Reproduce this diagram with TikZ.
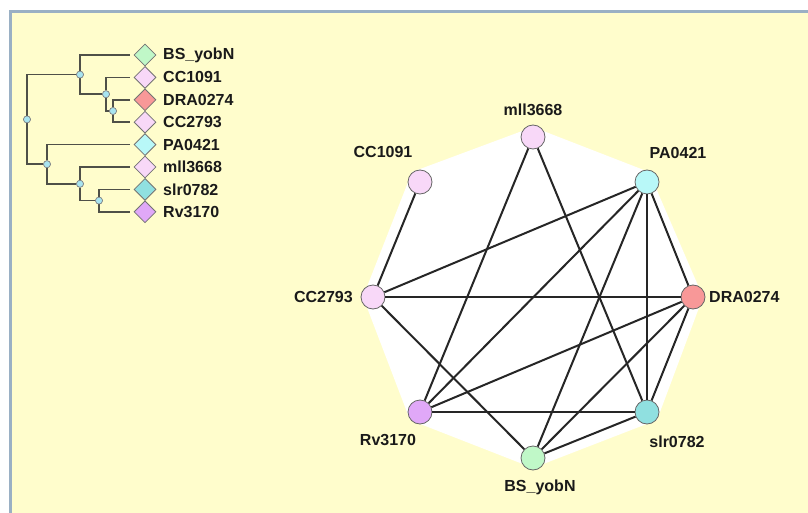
\documentclass[tikz,border=0pt]{standalone}
\usepackage{fontspec}
\setmainfont{Liberation Sans}
\usetikzlibrary{shapes.geometric}
\definecolor{panelbg}{HTML}{FFFDCC}
\definecolor{panelborder}{HTML}{9AB0C4}
\definecolor{cpink}{HTML}{F8D8F8}
\definecolor{ccyan}{HTML}{B8F8F8}
\definecolor{csalmon}{HTML}{F89898}
\definecolor{cteal}{HTML}{90E0E0}
\definecolor{cgreen}{HTML}{C0F8C8}
\definecolor{cviolet}{HTML}{E0A8F8}
\definecolor{tnode}{HTML}{A8E4F0}
\definecolor{tline}{HTML}{4F5048}
\definecolor{txt}{HTML}{1A1A1A}
\tikzset{
  lbl/.style={font=\fontsize{16}{18}\selectfont\bfseries, text=txt, inner sep=0pt},
  vert/.style={circle, draw=black!60, line width=0.8pt, minimum size=24pt, inner sep=0pt},
  edge/.style={draw=black!85, line width=2pt},
  leaf/.style={diamond, draw=black!55, line width=0.8pt, minimum width=22pt, minimum height=22pt, inner sep=0pt},
  inode/.style={circle, draw=black!50, fill=tnode, line width=0.6pt, minimum size=7pt, inner sep=0pt},
  tedge/.style={draw=tline, line width=1.7pt},
  tleaf/.style={tedge, shorten >=4pt},
}
\begin{document}
\begin{tikzpicture}[x=1pt,y=-1pt]
\useasboundingbox (0,0) rectangle (808,513);
\clip (0,0) rectangle (808,513);
\fill[white] (0,0) rectangle (808,513);
\draw[panelborder, line width=3pt, fill=panelbg] (10,12) rectangle (830,540);

% ---------- tree ----------
\foreach \n/\c/\t [count=\i from 0] in {lBS/cgreen/BS\_yobN, lCC1/cpink/CC1091, lDRA/csalmon/DRA0274, lCC2/cpink/CC2793, lPA/ccyan/PA0421, lMLL/cpink/mll3668, lSLR/cteal/slr0782, lRV/cviolet/Rv3170}{
  \node[leaf, fill=\c] (\n) at (145, 55+22.4*\i) {};
  \node[lbl, anchor=west] (\n t) at (163, 55+22.4*\i) {\t};
}
\node[inode] (nD) at (113, 111) {};
\node[inode] (nC) at (106, 94.2) {};
\node[inode] (nT) at (80, 74.6) {};
\node[inode] (nS) at (99, 200.6) {};
\node[inode] (nM) at (80, 183.8) {};
\node[inode] (nB) at (47, 164.2) {};
\node[inode] (nR) at (27, 119.4) {};
\path[tleaf] (nD) |- (lDRA.west);
\path[tleaf] (nD) |- (lCC2.west);
\path[tleaf] (nC) |- (lCC1.west);
\path[tedge] (nC) |- (nD);
\path[tleaf] (nT) |- (lBS.west);
\path[tedge] (nT) |- (nC);
\path[tleaf] (nS) |- (lSLR.west);
\path[tleaf] (nS) |- (lRV.west);
\path[tleaf] (nM) |- (lMLL.west);
\path[tedge] (nM) |- (nS);
\path[tleaf] (nB) |- (lPA.west);
\path[tedge] (nB) |- (nM);
\path[tedge] (nR) |- (nT);
\path[tedge] (nR) |- (nB);
\foreach \n in {nD,nC,nT,nS,nM,nB,nR}{\node[inode] at (\n) {};}

% ---------- network ----------
\fill[white] (533,127) -- (649,172) -- (703,297) -- (657,420) -- (533,468) -- (410,420) -- (363,297) -- (412,172) -- cycle;

\node[vert, fill=cpink]   (mll) at (533,137) {};
\node[vert, fill=ccyan]   (pa)  at (647,182) {};
\node[vert, fill=csalmon] (dra) at (693,297) {};
\node[vert, fill=cteal]   (slr) at (647,412) {};
\node[vert, fill=cgreen]  (bs)  at (533,458) {};
\node[vert, fill=cviolet] (rv)  at (420,412) {};
\node[vert, fill=cpink]   (cc2) at (373,297) {};
\node[vert, fill=cpink]   (cc1) at (420,182) {};

\path[edge] (cc1) -- (cc2);
\path[edge] (mll) -- (rv);
\path[edge] (mll) -- (slr);
\path[edge] (pa) -- (cc2);
\path[edge] (pa) -- (rv);
\path[edge] (pa) -- (bs);
\path[edge] (pa) -- (slr);
\path[edge] (pa) -- (dra);
\path[edge] (cc2) -- (dra);
\path[edge] (cc2) -- (bs);
\path[edge] (dra) -- (rv);
\path[edge] (dra) -- (bs);
\path[edge] (dra) -- (slr);
\path[edge] (rv) -- (slr);
\path[edge] (slr) -- (bs);

\node[lbl] (tmll) at (533,110) {mll3668};
\node[lbl] (tcc1) at (383,152) {CC1091};
\node[lbl] (tpa)  at (678,153) {PA0421};
\node[lbl, anchor=west] (tdra) at (709,297) {DRA0274};
\node[lbl] (tslr) at (677,442) {slr0782};
\node[lbl] (tbs)  at (540,487) {BS\_yobN};
\node[lbl] (trv)  at (388,440) {Rv3170};
\node[lbl, anchor=east] (tcc2) at (353,297) {CC2793};
\end{tikzpicture}
\end{document}
